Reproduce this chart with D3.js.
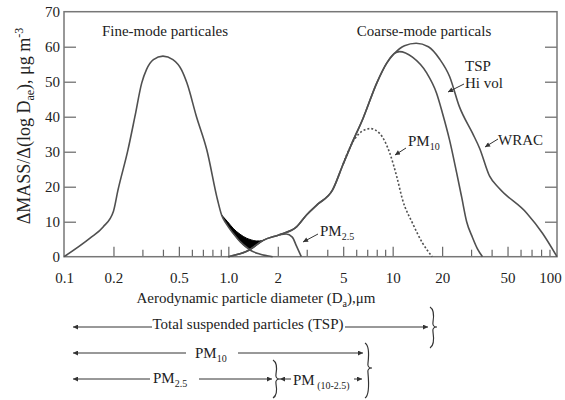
<!DOCTYPE html>
<html><head><meta charset="utf-8">
<script src="https://cdn.jsdelivr.net/npm/d3@7"></script>
<style>
body{margin:0;background:#fff;}
text{font-family:"Liberation Serif","Times New Roman",serif;fill:#222;}
</style></head>
<body><svg id="c" width="565" height="400"></svg>
<script>
// ---------- data ----------
const fineD = [0.1,0.144,0.173,0.2,0.213,0.245,0.27,0.297,0.318,0.35,0.4,0.46,0.52,0.56,0.64,0.74,0.86,0.91,0.975,1.07,1.18,1.29,1.38,1.55,1.86];
const fineV = [0,5.3,8.5,13,19,30.5,40,49.6,53.5,56.3,57.3,56.3,53.3,49.6,40,30.5,16.2,11.9,9.3,6.7,4.3,2.7,1.7,0.8,0];

const coarseD = [1.0,1.35,1.62,2.05,2.6,3.0,3.5,4.3,5.0,5.6,6.6,8.0,9.2,10.2];
const coarseV = [0,2.0,4.6,6.3,8.5,12,15,19,26.5,32,39.5,49.6,55.3,58];

const tspTailD = [11,13.2,16.1,18.5,20.1,22.2,24.5,26.3,28.2,30.6,33,35.2];
const tspTailV = [58.6,57,52.5,46.7,41,33.3,24,17,10,5.5,2,0];

const wracTailD = [11.8,13.9,16.5,19.3,22.2,25.5,30.6,33.8,38.9,44.6,65.3,81.6,100];
const wracTailV = [60.3,61,60,56.5,51.5,42.8,35.3,31,23,19.5,12.5,6.7,0];

const pm10D = [5.0,5.6,6.2,6.8,7.3,8.3,9.6,10.6,11.5,13.2,15.2,17.4];
const pm10V = [26.5,32,35,36.3,36.6,35.3,29.6,22.8,16.2,9.6,3.9,0];

const pm25D = [2.05,2.25,2.45,2.6,2.78];
const pm25V = [6.3,6.5,5.6,3.0,0];

const shadeD = [0.91,0.99,1.07,1.18,1.29,1.38,1.48,1.55,1.64];
const shadeTop = [11.9,10,8.1,6.4,5.3,4.8,4.5,4.5,4.7];
const shadeBottom = [11.9,9.0,6.7,4.3,2.7,2.3,3.3,4.0,4.7];

const xMajor = [0.1,0.2,0.5,1,2,5,10,20,50,100];
const xMajorLabels = ["0.1","0.2","0.5","1.0","2","5","10","20","50","100"];
const xMinor = [0.3,0.4,0.6,0.7,0.8,0.9,3,4,6,7,8,9,30,40,60,70,80,90];
const yTicks = [0,10,20,30,40,50,60,70];

// ---------- chart ----------
const svg = d3.select("#c");
const L=64, R=557, T=11.7, B=256.7;
const x = d3.scaleLog().domain([0.1,100]).range([L,R]);
const y = d3.scaleLinear().domain([0,70]).range([B,T]);
const curveCol = "#505050";

const zip = (a,b)=>a.map((d,i)=>[d,b[i]]);
const line = d3.line().x(d=>x(d[0])).y(d=>y(d[1])).curve(d3.curveMonotoneX);

// axes
const gx = svg.append("g").attr("transform",`translate(0,${B})`)
  .call(d3.axisBottom(x).tickValues(xMajor).tickSize(-10).tickPadding(16)
    .tickFormat((d,i)=>xMajorLabels[i]));
gx.select(".domain").remove();
gx.selectAll(".tick line").attr("stroke","#666").attr("stroke-width",1.2);
gx.selectAll(".tick text").attr("font-size",15).attr("font-family","Liberation Serif").attr("fill","#333");
gx.selectAll(".tick").filter(d=>d===0.1||d===100).select("line").remove();
gx.selectAll(".tick").filter(d=>d===100).select("text").attr("dx",-7);

const gxm = svg.append("g").attr("transform",`translate(0,${B})`)
  .call(d3.axisBottom(x).tickValues(xMinor).tickSize(-7).tickFormat(""));
gxm.select(".domain").remove();
gxm.selectAll(".tick line").attr("stroke","#666").attr("stroke-width",1.2);

const gy = svg.append("g").attr("transform",`translate(${L},0)`)
  .call(d3.axisLeft(y).tickValues(yTicks).tickSize(-12).tickPadding(4));
gy.select(".domain").remove();
gy.selectAll(".tick line").attr("stroke","#666").attr("stroke-width",1.2);
gy.selectAll(".tick").filter(d=>d===0||d===70).select("line").remove();
gy.selectAll(".tick text").attr("font-size",15).attr("font-family","Liberation Serif").attr("fill","#333");

const gyr = svg.append("g").attr("transform",`translate(${R},0)`)
  .call(d3.axisRight(y).tickValues(yTicks.filter(d=>d>0&&d<70)).tickSize(-12).tickFormat(""));
gyr.select(".domain").remove();
gyr.selectAll(".tick line").attr("stroke","#666").attr("stroke-width",1.2);

svg.append("rect").attr("x",L).attr("y",T).attr("width",R-L).attr("height",B-T)
  .attr("fill","none").attr("stroke","#777").attr("stroke-width",1.5);

// shaded overlap
const area = d3.area().x(d=>x(d[0])).y0(d=>y(d[2])).y1(d=>y(d[1])).curve(d3.curveMonotoneX);
svg.append("path").datum(shadeD.map((d,i)=>[d,shadeTop[i],shadeBottom[i]]))
  .attr("d",area).attr("fill","#000").attr("stroke","#000").attr("stroke-width",1);

// curves
const draw=(pts,dash)=>svg.append("path").datum(pts).attr("d",line)
  .attr("fill","none").attr("stroke",curveCol).attr("stroke-width",1.6)
  .attr("stroke-dasharray",dash||null);
draw(zip(fineD,fineV));
draw(zip(coarseD,coarseV).concat(zip(tspTailD,tspTailV)));
draw(zip(coarseD,coarseV).concat(zip(wracTailD,wracTailV)));
draw(zip(pm10D,pm10V),"2,2");
draw(zip(pm25D,pm25V));

// arrow markers
const defs = svg.append("defs");
defs.append("marker").attr("id","ah").attr("viewBox","0 0 10 10").attr("refX",10).attr("refY",5)
  .attr("markerWidth",7).attr("markerHeight",5).attr("markerUnits","userSpaceOnUse").attr("orient","auto")
  .append("path").attr("d","M0,0 L10,5 L0,10 z").attr("fill","#333");
defs.append("marker").attr("id","ahs").attr("viewBox","0 0 10 10").attr("refX",0).attr("refY",5)
  .attr("markerWidth",7).attr("markerHeight",5).attr("markerUnits","userSpaceOnUse").attr("orient","auto")
  .append("path").attr("d","M10,0 L0,5 L10,10 z").attr("fill","#333");

const arrow=(x1,y1,x2,y2)=>svg.append("line").attr("x1",x1).attr("y1",y1).attr("x2",x2).attr("y2",y2)
  .attr("stroke","#333").attr("stroke-width",1).attr("marker-end","url(#ah)");

// annotations
const txt=(tx,ty,s,size,anchor)=>svg.append("text").attr("x",tx).attr("y",ty)
  .attr("font-size",size||15).attr("text-anchor",anchor||"start").text(s);
txt(165,36,"Fine-mode particales",15,"middle");
txt(424,36,"Coarse-mode particals",15,"middle");
txt(465,71,"TSP",15);
txt(465,88,"Hi vol",15);
arrow(464,84,448,92);
const pm10t = txt(408,146,"PM",15); pm10t.append("tspan").attr("font-size",10).attr("dy",4).text("10");
arrow(406,148,395,155);
txt(498,145,"WRAC",15);
arrow(498,139,485,147);
const pm25t = txt(320,236,"PM",15); pm25t.append("tspan").attr("font-size",10).attr("dy",4).text("2.5");
arrow(318,234,303,242);

// axis titles
svg.append("text").attr("x",256).attr("y",303).attr("font-size",15).attr("text-anchor","middle")
  .call(t=>{t.append("tspan").text("Aerodynamic particle  diameter  (D");
            t.append("tspan").attr("font-size",10).attr("dy",4).text("a");
            t.append("tspan").attr("dy",-4).text("),μm");});
svg.append("text").attr("transform","translate(30,126) rotate(-90)").attr("font-size",18).attr("text-anchor","middle")
  .call(t=>{t.append("tspan").text("ΔMASS/Δ(log D");
            t.append("tspan").attr("font-size",12).attr("dy",4).text("ae");
            t.append("tspan").attr("dy",-4).text("), μg m");
            t.append("tspan").attr("font-size",12).attr("dy",-7).text("-3");});

// size-fraction rows
const seg=(x1,x2,yy,left,right)=>{
  const l=svg.append("line").attr("x1",x1).attr("y1",yy).attr("x2",x2).attr("y2",yy)
    .attr("stroke","#333").attr("stroke-width",1);
  if(right) l.attr("marker-end","url(#ah)");
  if(left) l.attr("marker-start","url(#ahs)");
};
const brace=(bx,y0,y1,ym)=>svg.append("path")
  .attr("d",`M${bx},${y0} Q${bx+5},${y0+3} ${bx+3},${ym-5} Q${bx+2},${ym} ${bx+7},${ym} Q${bx+2},${ym} ${bx+3},${ym+5} Q${bx+5},${y1-3} ${bx},${y1}`)
  .attr("fill","none").attr("stroke","#333").attr("stroke-width",1.2);

// row 1 TSP
seg(73,152,327,true,false); seg(345,428,327,false,true);
txt(248,329,"Total suspended particles  (TSP)",15,"middle");
brace(430,307,348,327);
// row 2 PM10
seg(73,186,353,true,false); seg(238,363,353,false,true);
const r2=txt(195,358,"PM",15); r2.append("tspan").attr("font-size",10).attr("dy",4).text("10");
brace(365,343,398,368);
// row 3 PM2.5 and PM(10-2.5)
seg(73,150,379,true,false); seg(199,272,379,false,true);
const r3=txt(153,383,"PM",15); r3.append("tspan").attr("font-size",10).attr("dy",4).text("2.5");
brace(273,360,398,379);
seg(280,291,379,true,false); seg(354,362,379,false,true);
const r4=txt(293,385,"PM",15); r4.append("tspan").attr("font-size",10).attr("dy",4).text(" (10-2.5)");
</script></body></html>
